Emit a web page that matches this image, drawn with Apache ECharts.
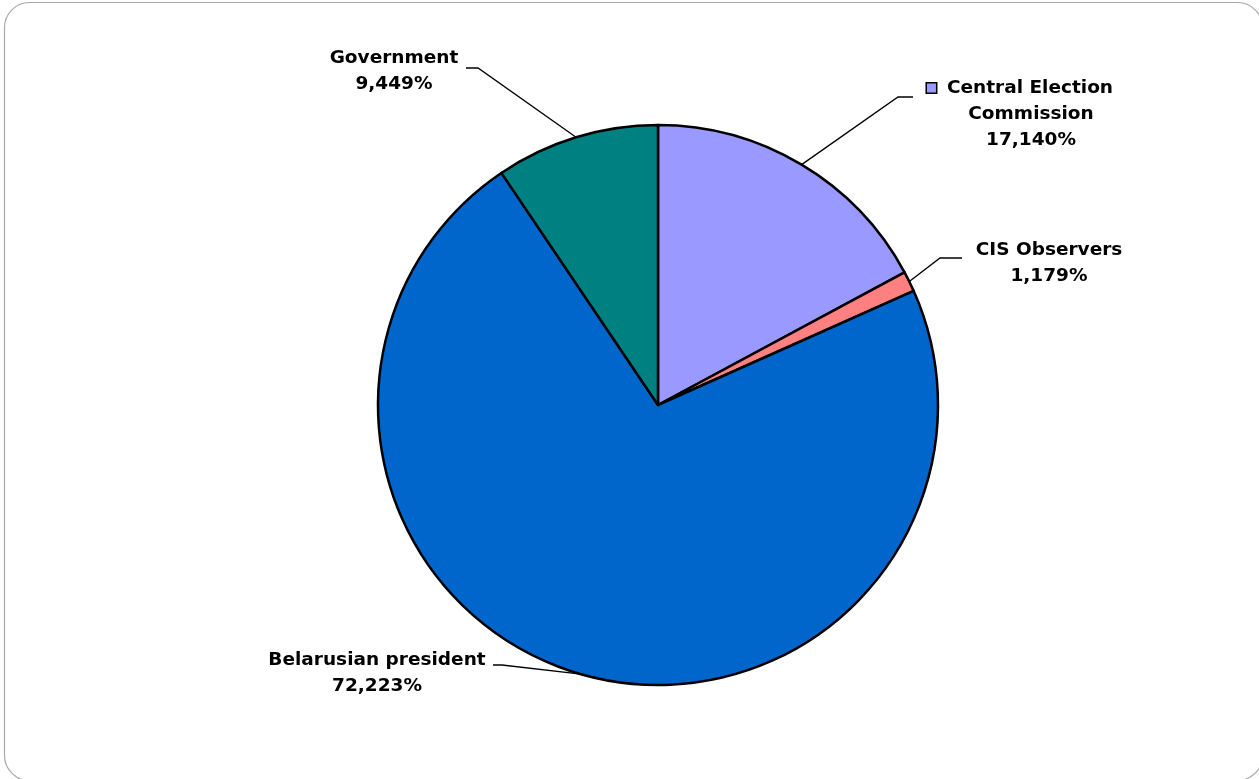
<!DOCTYPE html>
<html>
<head>
<meta charset="utf-8">
<script src="https://cdn.jsdelivr.net/npm/echarts@6/dist/echarts.min.js"></script>
<style>
  html, body { margin: 0; padding: 0; background: #fff; }
  #chart { width: 1259px; height: 779px; }
</style>
</head>
<body>
<div id="chart"></div>
<script>
// Shares of statements by source (percent)
const categories = ['Central Election Commission', 'CIS Observers', 'Belarusian president', 'Government'];
const shares = [17.140, 1.179, 72.223, 9.449];
const colors = ['#9999FF', '#FF8080', '#0066CC', '#008080'];
const labelLines = [['Central Election', 'Commission'], ['CIS Observers'], ['Belarusian president'], ['Government']];

const fmt = v => v.toFixed(3).replace('.', ',') + '%';

// label anchor: [text centre x, first line y, elbow x, elbow y, line end x]
const labelPlace = [
  [1031, 88, 898, 97, 913],
  [1049, 250, 940, 258, 962],
  [377, 660, 502, 665, 493],
  [394, 58, 478, 68, 466]
];

const chart = echarts.init(document.getElementById('chart'));
const font = '"DejaVu Sans", Verdana, sans-serif';

chart.setOption({
  backgroundColor: '#ffffff',
  animation: false,
  graphic: [{
    type: 'rect',
    shape: { x: 4.5, y: 2.5, width: 1258, height: 778, r: 25 },
    style: { fill: 'none', stroke: '#a8a8a8', lineWidth: 1.2 },
    silent: true
  }],
  series: [{
    type: 'pie',
    center: [658, 405],
    radius: [0, 280],
    startAngle: 90,
    clockwise: true,
    avoidLabelOverlap: false,
    data: categories.map((c, i) => ({
      name: c,
      value: shares[i],
      itemStyle: { color: colors[i] }
    })),
    itemStyle: { borderColor: '#000', borderWidth: 2.5 },
    label: {
      show: true,
      fontFamily: font,
      fontWeight: 'bold',
      fontSize: 18.5,
      color: '#000',
      lineHeight: 26,
      align: 'center',
      formatter: p => {
        const lines = labelLines[p.dataIndex].slice();
        // legend key sits left of the first line; the pad keeps the words centred
        if (p.dataIndex === 0) lines[0] = '{sq|}{gap|}' + lines[0] + '{pad|}';
        return lines.join('\n') + '\n' + fmt(p.value);
      },
      rich: {
        sq: { width: 9, height: 9, backgroundColor: '#9999FF', borderColor: '#000', borderWidth: 1.5 },
        gap: { width: 11 },
        pad: { width: 22 }
      }
    },
    labelLine: {
      show: true,
      lineStyle: { color: '#000', width: 1.3 }
    },
    labelLayout: p => {
      const [cx, y0, ex, ey, lx] = labelPlace[p.dataIndex];
      const n = labelLines[p.dataIndex].length + 1;
      const start = p.labelLinePoints ? p.labelLinePoints[0] : [ex, ey];
      return {
        x: cx,
        y: y0 + (n - 1) * 13,
        align: 'center',
        verticalAlign: 'middle',
        labelLinePoints: [start, [ex, ey], [lx, ey]]
      };
    }
  }]
});
</script>
</body>
</html>
